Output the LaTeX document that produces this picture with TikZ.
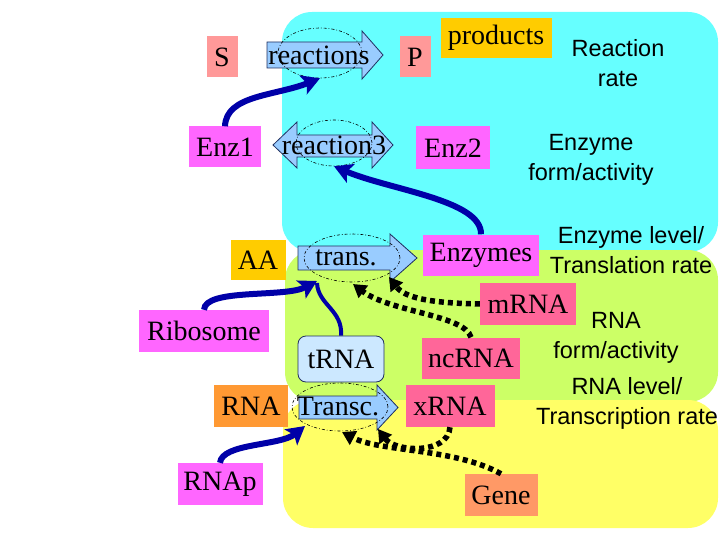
\documentclass[tikz,border=0pt]{standalone}
\usepackage{fontspec}
\setmainfont{Liberation Serif}
\setsansfont{Liberation Sans}
\usetikzlibrary{arrows.meta,shapes.geometric}
\definecolor{cyanreg}{HTML}{66FFFF}
\definecolor{greenreg}{HTML}{CCFF66}
\definecolor{yellowreg}{HTML}{FFFF66}
\definecolor{salmon}{HTML}{FF9999}
\definecolor{magbox}{HTML}{FF66FF}
\definecolor{goldbox}{HTML}{FFCC00}
\definecolor{orangebox}{HTML}{FF9933}
\definecolor{pinkbox}{HTML}{FF6699}
\definecolor{genebox}{HTML}{FF9966}
\definecolor{arrfill}{HTML}{99CCFF}
\definecolor{arredge}{HTML}{203060}
\definecolor{trnafill}{HTML}{CCE8FF}
\definecolor{darkblue}{HTML}{0000A8}
\tikzset{
  box/.style={inner sep=0pt, font=\fontsize{28}{30}\selectfont},
  txt/.style={inner sep=0pt, font=\fontsize{28}{30}\selectfont},
  lbl/.style={font=\sffamily\fontsize{23.5}{30}\selectfont, align=center, inner sep=0pt},
  oval/.style={draw, ellipse, dash pattern=on 3pt off 2pt on 0.8pt off 2pt, line width=0.6pt, inner sep=0pt},
  fatarrow/.style={draw=arredge, line width=0.8pt, fill=arrfill},
  region/.style={rounded corners=30pt},
  bluearr/.style={draw=darkblue, line width=6pt, -{Stealth[length=18pt,width=20pt,inset=4pt]}},
  dotarr/.style={draw=black, line width=5.5pt, dash pattern=on 5pt off 4pt, -{Triangle[length=13pt,width=15pt]}}
}
\begin{document}
\begin{tikzpicture}[x=1pt,y=-1pt]
\useasboundingbox (0,0) rectangle (720,540);
% regions
\fill[cyanreg, region] (282,12) rectangle (718,252);
\fill[greenreg, region] (285,250) rectangle (718,402);
\fill[yellowreg, region] (283,400) rectangle (718,528);

% arrow shapes
\draw[fatarrow] (267,42) -- (362,42) -- (362,31) -- (383,55) -- (362,79) -- (362,68) -- (267,68) -- cycle;
\draw[fatarrow] (297,135) -- (372,135) -- (372,122) -- (393,145) -- (372,168) -- (372,157) -- (297,157) -- (297,168) -- (273,145) -- (297,122) -- cycle;
\draw[fatarrow] (298,246) -- (390,246) -- (390,234) -- (417,258) -- (390,282) -- (390,270) -- (298,270) -- cycle;
\draw[fatarrow] (299,396) -- (377,396) -- (377,385) -- (398,407.5) -- (377,430) -- (377,419) -- (299,419) -- cycle;

\node[txt] (rxt) at (319,55) {reactions};
\node[txt] (r3t) at (334,145) {reaction3};
\node[txt] (trt) at (346,258) {trans.};
\node[txt] (tct) at (338,407) {Transc.};

\node[oval, minimum width=84pt, minimum height=50pt] (rxE) at (320,53) {};
\node[oval, minimum width=76pt, minimum height=46pt] (r3E) at (334,143) {};
\node[oval, minimum width=96pt, minimum height=48pt] (trE) at (352,258) {};
\node[oval, minimum width=96pt, minimum height=48pt] (tcE) at (340,407) {};

% boxes
\node[box, fill=salmon, minimum width=31pt, minimum height=41pt] (S) at (222,57) {S};
\node[box, fill=salmon, minimum width=31pt, minimum height=41pt] (P) at (415,57) {P};
\node[box, fill=goldbox, minimum width=111pt, minimum height=40pt] (prod) at (496,38) {products};
\node[box, fill=magbox, minimum width=72pt, minimum height=41pt] (enz1) at (225,147) {Enz1};
\node[box, fill=magbox, minimum width=74pt, minimum height=43pt] (enz2) at (453,148) {Enz2};
\node[box, fill=goldbox, minimum width=55pt, minimum height=40pt] (AA) at (258,260) {AA};
\node[box, fill=magbox, minimum width=116pt, minimum height=41pt] (enzs) at (481,255) {Enzymes};
\node[box, fill=pinkbox, minimum width=96pt, minimum height=42pt] (mrna) at (528,304) {mRNA};
\node[box, fill=magbox, minimum width=130pt, minimum height=42pt] (ribo) at (204,331) {Ribosome};
\node[box, fill=trnafill, draw=arredge, line width=0.8pt, rounded corners=8pt, minimum width=86pt, minimum height=46pt] (trna) at (341,359) {tRNA};
\node[box, fill=pinkbox, minimum width=98pt, minimum height=41pt] (ncrna) at (471,358) {ncRNA};
\node[box, fill=orangebox, minimum width=74pt, minimum height=42pt] (rna) at (251,406) {RNA};
\node[box, fill=pinkbox, minimum width=89pt, minimum height=42pt] (xrna) at (450,406) {xRNA};
\node[box, fill=magbox, minimum width=85pt, minimum height=42pt] (rnap) at (220,484) {RNAp};
\node[box, fill=genebox, minimum width=73pt, minimum height=42pt] (gene) at (501,495) {Gene};

% side labels
\node[lbl] (l1) at (618,63) {Reaction\\rate};
\node[lbl] (l2) at (591,160) {Enzyme\\form/activity};
\node[lbl] (l3) at (631,250) {Enzyme level/\\Translation rate};
\node[lbl] (l4) at (616,338) {RNA\\form/activity};
\node[lbl] (l5) at (627,403) {RNA level/\\Transcription rate};

% blue connectors
\draw[bluearr] (enz1.north) .. controls (226,95) and (275,96) .. (rxE.south);
\draw[bluearr] (enzs.north) .. controls (482,200) and (390,190) .. (r3E.south);
\draw[draw=darkblue, line width=4pt] (trna.north) .. controls (343,310) and (318,305) .. (317,283);
\draw[bluearr] (ribo.north) .. controls (205,288) and (285,298) .. (317,281);
\draw[bluearr] (rnap.north) .. controls (222,443) and (280,446) .. (305,426);

% dotted connectors
\draw[dotarr] (mrna.west) .. controls (430,303) and (405,298) .. (389,277);
\draw[dotarr] (ncrna.north) .. controls (465,315) and (390,312) .. (353,284);
\draw[dotarr] (xrna.south) .. controls (448,455) and (395,452) .. (378,429);
\draw[dotarr] (gene.north) .. controls (455,448) and (380,452) .. (342,432);
\end{tikzpicture}
\end{document}
